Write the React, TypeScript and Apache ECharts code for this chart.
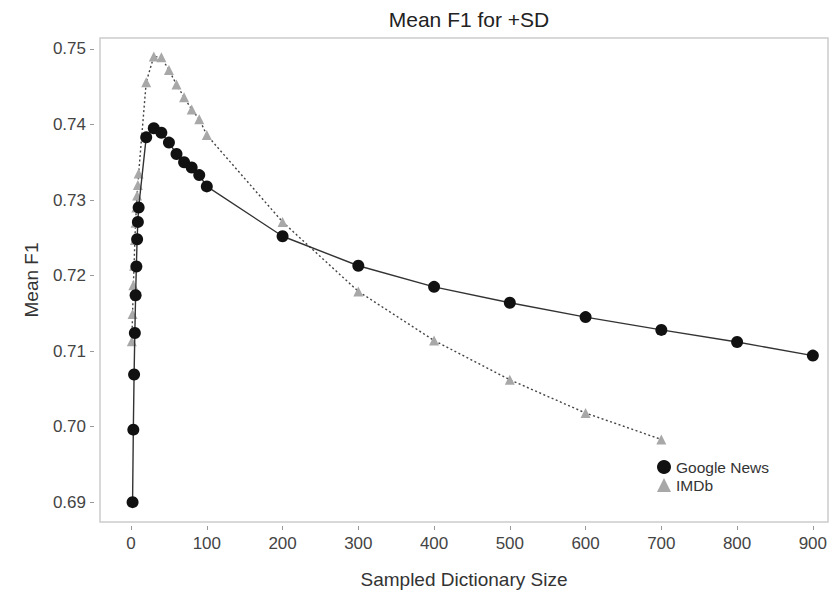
import React, { useEffect, useRef } from "react";
import * as echarts from "echarts";

const xTicks = [0, 100, 200, 300, 400, 500, 600, 700, 800, 900];
const yTicks = [0.69, 0.7, 0.71, 0.72, 0.73, 0.74, 0.75];

const xGoogle = [2, 3, 4, 5, 6, 7, 8, 9, 10, 20, 30, 40, 50, 60, 70, 80, 90, 100, 200, 300, 400, 500, 600, 700, 800, 900];
const yGoogle = [0.69, 0.6996, 0.7069, 0.7124, 0.7174, 0.7212, 0.7248, 0.7271, 0.729, 0.7383, 0.7395, 0.7389, 0.7376, 0.7361, 0.735, 0.7343, 0.7333, 0.7318, 0.7252, 0.7213, 0.7185, 0.7164, 0.7145, 0.7128, 0.7112, 0.7094];

const xImdb = [1, 2, 3, 4, 5, 6, 7, 8, 9, 10, 20, 30, 40, 50, 60, 70, 80, 90, 100, 200, 300, 400, 500, 600, 700];
const yImdb = [0.7113, 0.7149, 0.7187, 0.7213, 0.7247, 0.727, 0.729, 0.7306, 0.732, 0.7335, 0.7456, 0.749, 0.7489, 0.7472, 0.7453, 0.7436, 0.742, 0.7407, 0.7386, 0.7271, 0.7179, 0.7114, 0.7062, 0.7018, 0.6983];

export default function App() {
  const ref = useRef<HTMLDivElement>(null);
  useEffect(() => {
    document.body.style.margin = "0";
    const chart = echarts.init(ref.current!, null, { renderer: "svg" });
    chart.setOption({
      animation: false,
      backgroundColor: "#ffffff",
      textStyle: { fontFamily: "Liberation Sans, Arial, sans-serif" },
      title: {
        text: "Mean F1 for +SD",
        left: 464,
        top: 4,
        textAlign: "center",
        textStyle: { fontSize: 21, fontWeight: "normal", color: "#222" },
      },
      grid: {
        left: 100,
        top: 38,
        width: 728,
        height: 487,
        show: true,
        borderColor: "#cccccc",
        borderWidth: 1.5,
        containLabel: false,
      },
      legend: {
        orient: "vertical",
        left: 652,
        top: 454,
        itemWidth: 14,
        itemHeight: 14,
        itemGap: 2,
        textStyle: { fontSize: 15.5, color: "#333" },
        data: [
          { name: "Google News", icon: "circle" },
          { name: "IMDb", icon: "triangle" },
        ],
      },
      xAxis: {
        type: "value",
        min: -41,
        max: 920,
        offset: 4,
        axisLine: { show: false, onZero: false },
        axisTick: { show: true, length: 4, lineStyle: { color: "#999" }, customValues: xTicks },
        axisLabel: { customValues: xTicks, fontSize: 17, color: "#444", margin: 9 },
        splitLine: { show: false },
        name: "Sampled Dictionary Size",
        nameLocation: "middle",
        nameGap: 44,
        nameTextStyle: { fontSize: 19, color: "#333" },
      },
      yAxis: {
        type: "value",
        min: 0.68737,
        max: 0.75145,
        offset: 6,
        axisLine: { show: false, onZero: false },
        axisTick: { show: true, length: 4, lineStyle: { color: "#999" }, customValues: yTicks },
        axisLabel: {
          customValues: yTicks,
          fontSize: 17,
          color: "#444",
          margin: 8,
          formatter: (v: number) => v.toFixed(2),
        },
        splitLine: { show: false },
        name: "Mean F1",
        nameLocation: "middle",
        nameGap: 53,
        nameTextStyle: { fontSize: 19, color: "#333" },
      },
      series: [
        {
          name: "IMDb",
          type: "line",
          data: xImdb.map((x, i) => [x, yImdb[i]]),
          symbol: "triangle",
          symbolSize: 10,
          itemStyle: { color: "#a8a8a8" },
          lineStyle: { color: "#444", width: 1.4, type: [2, 2.5] },
          z: 2,
        },
        {
          name: "Google News",
          type: "line",
          data: xGoogle.map((x, i) => [x, yGoogle[i]]),
          symbol: "circle",
          symbolSize: 12,
          itemStyle: { color: "#111" },
          lineStyle: { color: "#333", width: 1.4 },
          z: 3,
        },
      ],
    });
    return () => chart.dispose();
  }, []);
  return <div ref={ref} style={{ width: 836, height: 594 }} />;
}
